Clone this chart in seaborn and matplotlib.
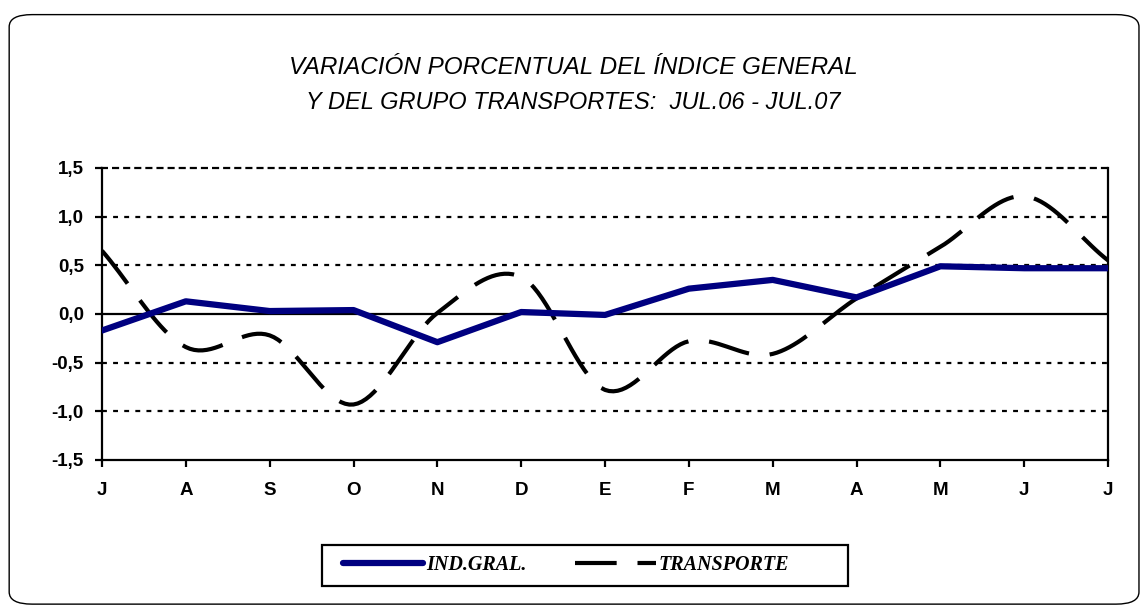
import numpy as np
import pandas as pd
import matplotlib
matplotlib.use("Agg")
import matplotlib.pyplot as plt
import seaborn as sns
from matplotlib.patches import FancyBboxPatch, Rectangle
from matplotlib.lines import Line2D

months = ["J", "A", "S", "O", "N", "D", "E", "F", "M", "A", "M", "J", "J"]
ind_gral = [-0.17, 0.13, 0.03, 0.04, -0.29, 0.02, -0.01, 0.26, 0.35, 0.17, 0.49, 0.47, 0.47]
transporte = [0.65, -0.34, -0.22, -0.93, 0.01, 0.38, -0.78, -0.28, -0.41, 0.16, 0.69, 1.21, 0.55]
y_ticks = [-1.5, -1.0, -0.5, 0.0, 0.5, 1.0, 1.5]


def smooth(xs, ys, n=20):
    # catmull-rom curve like the spreadsheet "smoothed line" option
    xs = np.asarray(xs, float)
    ys = np.asarray(ys, float)
    px = np.concatenate([[2 * xs[0] - xs[1]], xs, [2 * xs[-1] - xs[-2]]])
    py = np.concatenate([[2 * ys[0] - ys[1]], ys, [2 * ys[-1] - ys[-2]]])
    out_x, out_y = [], []
    t = np.linspace(0, 1, n, endpoint=False)
    for i in range(1, len(px) - 2):
        for p, o in ((px, out_x), (py, out_y)):
            p0, p1, p2, p3 = p[i - 1], p[i], p[i + 1], p[i + 2]
            o.extend(0.5 * (2 * p1 + (-p0 + p2) * t
                            + (2 * p0 - 5 * p1 + 4 * p2 - p3) * t ** 2
                            + (-p0 + 3 * p1 - 3 * p2 + p3) * t ** 3))
    out_x.append(xs[-1])
    out_y.append(ys[-1])
    return np.array(out_x), np.array(out_y)


sns.set_style("white", {"text.color": "black", "xtick.color": "black",
                        "ytick.color": "black", "axes.edgecolor": "black"})
plt.rcParams["font.family"] = ["Liberation Sans", "DejaVu Sans"]

fig = plt.figure(figsize=(11.47, 6.09), dpi=100)
fig.patches.append(FancyBboxPatch((0.008, 0.008), 0.985, 0.968,
                                  boxstyle="round,pad=0,rounding_size=0.02",
                                  transform=fig.transFigure, fill=False,
                                  edgecolor="black", linewidth=1.0))

ax = fig.add_axes([0.0889, 0.2447, 0.8772, 0.4795])
x = np.arange(len(months))

for yv in y_ticks:
    if yv == 0:
        ax.axhline(0, color="black", lw=1.6, zorder=1)
    elif abs(yv) < 1.5:
        ax.axhline(yv, color="black", lw=1.6, ls=(0, (2.2, 2.8)), zorder=1)

sx, sy = smooth(x, transporte)
df_t = pd.DataFrame({"x": sx, "y": sy})
sns.lineplot(data=df_t, x="x", y="y", ax=ax, color="black", lw=3.0,
             sort=False, zorder=3).lines[-1].set_dashes((10, 5))
df_g = pd.DataFrame({"x": x, "y": ind_gral})
sns.lineplot(data=df_g, x="x", y="y", ax=ax, color="#000080", lw=4.5,
             zorder=4, solid_capstyle="round")

ax.set_xlim(0, 12)
ax.set_ylim(-1.5, 1.5)
ax.set_xticks(x)
ax.set_xticklabels(months, fontsize=13.5, fontweight="bold")
ax.set_yticks(y_ticks)
ax.set_yticklabels([f"{v:.1f}".replace(".", ",") for v in y_ticks],
                   fontsize=13.5, fontweight="bold")
ax.tick_params(axis="both", direction="out", length=5, width=1.6,
               color="black", labelcolor="black", left=True, bottom=True)
ax.tick_params(axis="x", pad=11)
ax.tick_params(axis="y", pad=8)
ax.set_xlabel("")
ax.set_ylabel("")
for name, sp in ax.spines.items():
    sp.set_visible(True)
    sp.set_color("black")
    sp.set_linewidth(1.6)
ax.spines["top"].set_linestyle((0, (2.2, 2.8)))

fig.text(0.5, 0.889, "VARIACIÓN PORCENTUAL DEL ÍNDICE GENERAL",
         ha="center", va="center", fontsize=17.5, style="italic", color="black")
fig.text(0.5, 0.831, "Y DEL GRUPO TRANSPORTES:  JUL.06 - JUL.07",
         ha="center", va="center", fontsize=17, style="italic", color="black")

# legend box is wider than its contents, like the original
fig.patches.append(Rectangle((0.2807, 0.0378), 0.4586, 0.0673,
                             transform=fig.transFigure, fill=False,
                             edgecolor="black", linewidth=1.6))
handles = [Line2D([], [], color="#000080", lw=4.5, solid_capstyle="round"),
           Line2D([], [], color="black", lw=3.0, dashes=(10, 5))]
leg = fig.legend(handles, ["IND.GRAL.", "TRANSPORTE"], loc="center",
                 bbox_to_anchor=(0.4935, 0.0715), ncol=2, frameon=False,
                 handlelength=4.0, handletextpad=0.15,
                 columnspacing=2.4, borderpad=0.45,
                 prop={"family": "Liberation Serif", "style": "italic",
                       "weight": "bold", "size": 14.5})

fig.savefig("out.png", dpi=100)
